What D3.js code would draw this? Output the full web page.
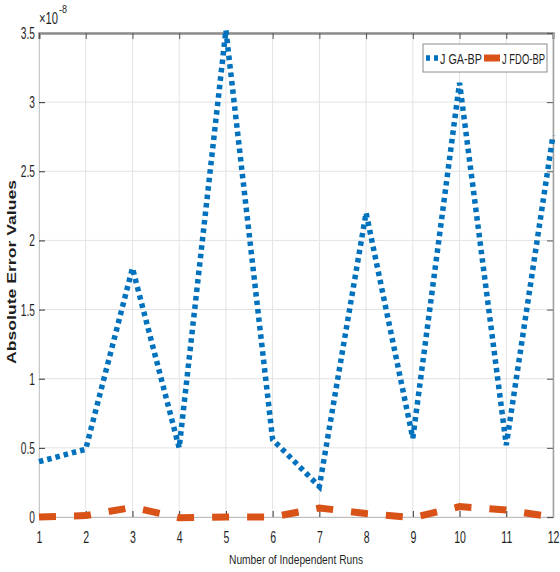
<!DOCTYPE html>
<html>
<head>
<meta charset="utf-8">
<script src="https://cdn.jsdelivr.net/npm/d3@7"></script>
<style>
body { margin: 0; background: #fff; }
svg text { font-family: "Liberation Sans", Arial, sans-serif; fill: #1f1f1f; }
</style>
</head>
<body>
<svg width="560" height="572"></svg>
<script>
var runs = [1, 2, 3, 4, 5, 6, 7, 8, 9, 10, 11, 12];
var gaBP = [0.40, 0.49, 1.80, 0.50, 3.52, 0.56, 0.22, 2.20, 0.57, 3.14, 0.52, 2.76];
var fdoBP = [0.00, 0.01, 0.07, -0.005, 0.00, 0.00, 0.065, 0.025, -0.005, 0.075, 0.05, 0.00];
var yTicks = [0, 0.5, 1, 1.5, 2, 2.5, 3, 3.5];
var yTickLabels = ['0', '0.5', '1', '1.5', '2', '2.5', '3', '3.5'];
var seriesNames = ['J GA-BP', 'J FDO-BP'];

var svg = d3.select('svg');
var padL = 39, padR = 553, padT = 33, padB = 517;

var x = d3.scaleLinear().domain([1, 12]).range([padL, padR]);
var y = d3.scaleLinear().domain([0, 3.5]).range([padB, padT]);

// squeeze text to look like a narrow font
function narrow(sel, k) {
    sel.each(function() {
        var w = this.getComputedTextLength();
        d3.select(this).attr('textLength', w * k).attr('lengthAdjust', 'spacingAndGlyphs');
    });
}

// grid
svg.append('g').selectAll('line')
    .data(runs)
    .enter().append('line')
    .attr('x1', function(d) { return x(d); })
    .attr('x2', function(d) { return x(d); })
    .attr('y1', padT).attr('y2', padB)
    .attr('stroke', '#e3e3e3').attr('stroke-width', 1);
svg.append('g').selectAll('line')
    .data(yTicks)
    .enter().append('line')
    .attr('y1', function(d) { return y(d); })
    .attr('y2', function(d) { return y(d); })
    .attr('x1', padL).attr('x2', padR)
    .attr('stroke', '#e3e3e3').attr('stroke-width', 1);

// axes
var xAxis = d3.axisBottom(x).tickValues(runs).tickSize(-6).tickPadding(14)
    .tickFormat(d3.format('d'));
var gx = svg.append('g').attr('transform', 'translate(0,' + padB + ')').call(xAxis);
gx.select('.domain').attr('stroke', '#bdbdbd');
gx.selectAll('.tick line').attr('stroke', '#333');
gx.selectAll('.tick text').attr('font-size', 17).attr('fill', '#1f1f1f')
    .style('font-family', '"Liberation Sans", Arial, sans-serif')
    .call(narrow, 0.62);

var yAxis = d3.axisLeft(y).tickValues(yTicks).tickSize(-6).tickPadding(4)
    .tickFormat(function(d, i) { return yTickLabels[i]; });
var gy = svg.append('g').attr('transform', 'translate(' + padL + ',0)').call(yAxis);
gy.select('.domain').attr('stroke', '#c8c8c8');
gy.selectAll('.tick line').attr('stroke', '#333');
gy.selectAll('.tick text').attr('font-size', 17).attr('fill', '#1f1f1f')
    .style('font-family', '"Liberation Sans", Arial, sans-serif')
    .call(narrow, 0.6);

// top & right frame
var gt = svg.append('g').attr('transform', 'translate(0,' + padT + ')')
    .call(d3.axisTop(x).tickValues(runs).tickSize(-6).tickFormat(''));
gt.select('.domain').attr('stroke', '#8c8c8c').attr('stroke-width', 2.5);
gt.selectAll('.tick line').attr('stroke', '#555');
var gr = svg.append('g').attr('transform', 'translate(' + padR + ',0)')
    .call(d3.axisRight(y).tickValues(yTicks).tickSize(-6).tickFormat(''));
gr.select('.domain').attr('stroke', '#a0a0a0').attr('stroke-width', 1.5);
gr.selectAll('.tick line').attr('stroke', '#555');

// exponent
svg.append('text').attr('x', 39).attr('y', 24).attr('font-size', 16)
    .attr('textLength', 19).attr('lengthAdjust', 'spacingAndGlyphs').text('\u00d710');
svg.append('text').attr('x', 59).attr('y', 13).attr('font-size', 11)
    .attr('textLength', 8).attr('lengthAdjust', 'spacingAndGlyphs').text('-8');

// lines
var line = d3.line()
    .x(function(d, i) { return x(runs[i]); })
    .y(function(d) { return y(d); });

svg.append('path')
    .datum(fdoBP)
    .attr('d', line)
    .attr('fill', 'none')
    .attr('stroke', '#D95319')
    .attr('stroke-width', 7)
    .attr('stroke-dasharray', '17,18');

svg.append('path')
    .datum(gaBP)
    .attr('d', line)
    .attr('fill', 'none')
    .attr('stroke', '#0072BD')
    .attr('stroke-width', 5.5)
    .attr('stroke-dasharray', '4.5,4');

// labels
svg.append('text')
    .attr('x', 296).attr('y', 564)
    .attr('text-anchor', 'middle')
    .attr('font-size', 13.5)
    .attr('textLength', 134).attr('lengthAdjust', 'spacingAndGlyphs')
    .text('Number of Independent Runs');

svg.append('text')
    .attr('transform', 'translate(16,272) rotate(-90)')
    .attr('text-anchor', 'middle')
    .attr('font-size', 13)
    .attr('font-weight', 'bold')
    .attr('textLength', 184).attr('lengthAdjust', 'spacingAndGlyphs')
    .text('Absolute Error Values');

// legend
var legend = svg.append('g');
legend.append('rect')
    .attr('x', 423).attr('y', 44).attr('width', 124).attr('height', 28)
    .attr('fill', '#fff').attr('stroke', '#8c8c8c').attr('stroke-width', 1);
legend.append('line')
    .attr('x1', 426).attr('x2', 438).attr('y1', 58).attr('y2', 58)
    .attr('stroke', '#0072BD').attr('stroke-width', 5.5).attr('stroke-dasharray', '4,4');
legend.append('text').attr('x', 440).attr('y', 64).attr('font-size', 15)
    .attr('textLength', 42).attr('lengthAdjust', 'spacingAndGlyphs').text(seriesNames[0]);
legend.append('line')
    .attr('x1', 484).attr('x2', 500).attr('y1', 58).attr('y2', 58)
    .attr('stroke', '#D95319').attr('stroke-width', 7);
legend.append('text').attr('x', 502).attr('y', 64).attr('font-size', 15)
    .attr('textLength', 43).attr('lengthAdjust', 'spacingAndGlyphs').text(seriesNames[1]);
</script>
</body>
</html>
